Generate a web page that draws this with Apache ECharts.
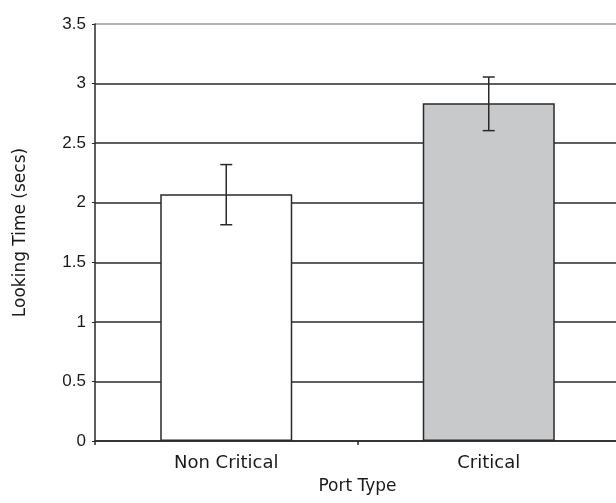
<!DOCTYPE html>
<html>
<head>
<meta charset="utf-8">
<script src="https://cdn.jsdelivr.net/npm/echarts@6/dist/echarts.min.js"></script>
<style>html,body{margin:0;padding:0;background:#fff;}#c{width:616px;height:503px;}</style>
</head>
<body>
<div id="c"></div>
<script>
var categories = ['Non Critical', 'Critical'];
var means = [2.07, 2.835];
var errLow = [1.815, 2.605];
var errHigh = [2.32, 3.055];
var barColors = ['#ffffff', '#c8c9cb'];
var yTicks = [0, 0.5, 1, 1.5, 2, 2.5, 3, 3.5];

var chart = echarts.init(document.getElementById('c'));
var comic = '"DejaVu Sans", sans-serif';
var option = {
  animation: false,
  backgroundColor: '#ffffff',
  grid: {left: 95, top: 24, width: 525, height: 417, outerBoundsMode: 'none', containLabel: false},
  xAxis: {
    type: 'category', data: categories,
    axisLine: {show: true, lineStyle: {color: '#2a2a2a', width: 1.5}},
    axisTick: {show: true, length: 4, lineStyle: {color: '#2a2a2a', width: 1.5}},
    axisLabel: {show: true, margin: 13, fontFamily: comic, fontSize: 18, color: '#1a1a1a'},
    name: 'Port Type', nameLocation: 'middle', nameGap: 37,
    nameTextStyle: {fontFamily: comic, fontSize: 17, color: '#1a1a1a'}
  },
  yAxis: {
    type: 'value', min: yTicks[0], max: yTicks[yTicks.length - 1], interval: 0.5,
    axisLine: {show: true, lineStyle: {color: '#2a2a2a', width: 1.5}},
    axisTick: {show: true, length: 3, lineStyle: {color: '#2a2a2a'}},
    axisLabel: {fontFamily: '"Liberation Sans", Arial, sans-serif', fontSize: 17, color: '#1a1a1a', margin: 9},
    splitLine: {show: true, lineStyle: {color: ['#2a2a2a', '#2a2a2a', '#2a2a2a', '#2a2a2a', '#2a2a2a', '#2a2a2a', '#2a2a2a', '#9a9a9a'], width: 1.5}},
    name: 'Looking Time (secs)', nameLocation: 'middle', nameGap: 66,
    nameTextStyle: {fontFamily: comic, fontSize: 17, color: '#1a1a1a'}
  },
  series: [
    {
      type: 'bar', barWidth: 132,
      data: means.map(function (v, i) {
        return {value: v, itemStyle: {color: barColors[i], borderColor: '#2a2a2a', borderWidth: 1.5}};
      }),
      z: 3
    },
    {
      type: 'custom', z: 5,
      data: categories.map(function (c, i) { return [i, errLow[i], errHigh[i]]; }),
      renderItem: function (params, api) {
        var x = api.value(0);
        var lo = api.coord([x, api.value(1)]);
        var hi = api.coord([x, api.value(2)]);
        var hw = 6;
        var st = {stroke: '#2a2a2a', lineWidth: 1.5};
        return {
          type: 'group',
          children: [
            {type: 'line', shape: {x1: lo[0], y1: lo[1], x2: hi[0], y2: hi[1]}, style: st},
            {type: 'line', shape: {x1: lo[0] - hw, y1: lo[1], x2: lo[0] + hw, y2: lo[1]}, style: st},
            {type: 'line', shape: {x1: hi[0] - hw, y1: hi[1], x2: hi[0] + hw, y2: hi[1]}, style: st}
          ]
        };
      }
    }
  ]
};
chart.setOption(option);
</script>
</body>
</html>
